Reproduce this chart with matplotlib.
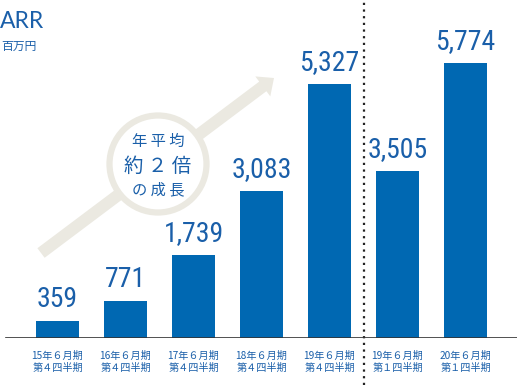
import matplotlib.pyplot as plt
from matplotlib import patches as mpatches

# data
periods = [
    "15年６月期\n第４四半期",
    "16年６月期\n第４四半期",
    "17年６月期\n第４四半期",
    "18年６月期\n第４四半期",
    "19年６月期\n第４四半期",
    "19年６月期\n第１四半期",
    "20年６月期\n第１四半期",
]
arr_values = [359, 771, 1739, 3083, 5327, 3505, 5774]
value_labels = ["359", "771", "1,739", "3,083", "5,327", "3,505", "5,774"]

BAR_COLOR = "#0068b2"
TEXT_COLOR = "#1a5fa9"
ARROW_COLOR = "#ebe9e1"
JP = ["Noto Sans CJK JP", "DejaVu Sans"]
NUM = ["Roboto Condensed", "Archivo Narrow", "DejaVu Sans"]

W, H = 517, 385
fig = plt.figure(figsize=(W / 100, H / 100), dpi=100)

# decoration layer in pixel coords (origin top-left)
deco = fig.add_axes([0, 0, 1, 1], zorder=0)
deco.set_xlim(0, W)
deco.set_ylim(H, 0)
deco.axis("off")

deco.add_patch(
    mpatches.FancyArrow(
        41, 253, 233, -175,
        width=12, head_width=25, head_length=14,
        length_includes_head=True, color=ARROW_COLOR, lw=0,
    )
)
deco.add_patch(
    mpatches.Circle((158, 164), 48.5, facecolor="white",
                    edgecolor=ARROW_COLOR, lw=4.5)
)
deco.text(158, 141, "年 平 均", fontsize=11, family=JP, color=TEXT_COLOR,
          ha="center", va="center")
deco.text(158, 166, "約 ２ 倍", fontsize=14, family=JP, color=TEXT_COLOR,
          ha="center", va="center")
deco.text(158, 190, "の 成 長", fontsize=11, family=JP, color=TEXT_COLOR,
          ha="center", va="center")

deco.text(0, 21, "ARR", fontsize=16.5, family=["Lato", "DejaVu Sans"],
          color=TEXT_COLOR, ha="left", va="center")
deco.text(1, 46, "百万円", fontsize=8.5, family=JP, color=TEXT_COLOR,
          ha="left", va="center")

# bar chart
base_px = 47
px_per_unit = 0.04765
ax = fig.add_axes([0, base_px / H, 1, (H - base_px) / H], zorder=1)
ax.patch.set_alpha(0)
x = list(range(len(arr_values)))
ax.bar(x, arr_values, width=43 / 68, color=BAR_COLOR, zorder=2)
ax.set_xlim(-57.5 / 68, (W - 57.5) / 68)
ax.set_ylim(0, (H - base_px) / px_per_unit)

for xi, v, lab in zip(x, arr_values, value_labels):
    ax.annotate(lab, (xi, v), xytext=(0, 6), textcoords="offset points",
                ha="center", va="bottom", fontsize=20, family=NUM,
                color=TEXT_COLOR)

ax.axhline(0, xmin=6 / W, xmax=1, color="#333333", lw=1.2, zorder=3)
ax.axvline(4.5, ymin=-base_px / (H - base_px), ymax=1, color="#222222",
           lw=1.6, linestyle=(0, (1, 2)), clip_on=False)

ax.set_xticks(x)
ax.set_xticklabels(periods, fontsize=7.3, family=JP, color=TEXT_COLOR,
                   linespacing=1.3)
ax.tick_params(axis="x", length=0, pad=9)
ax.set_yticks([])
for side in ax.spines.values():
    side.set_visible(False)

fig.savefig("out.png", dpi=100)
